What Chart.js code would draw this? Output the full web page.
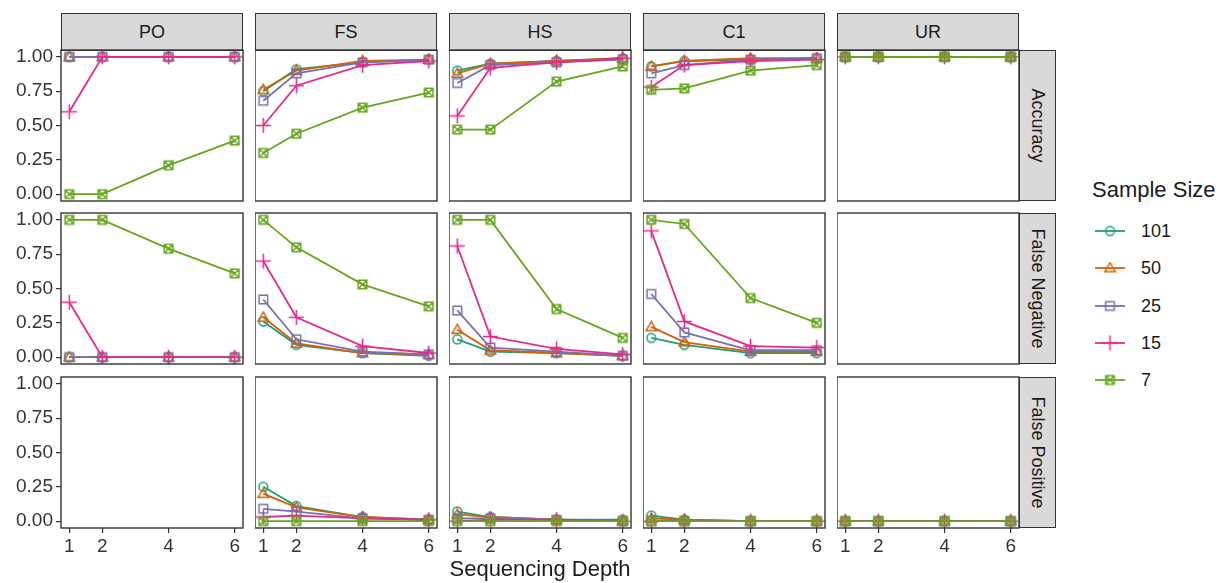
<!DOCTYPE html>
<html>
<head>
<meta charset="utf-8">
<script src="https://cdn.jsdelivr.net/npm/chart.js@4"></script>
<style>
  html, body { margin: 0; padding: 0; background: #fff; }
  body { width: 1225px; height: 583px; position: relative; overflow: hidden;
         font-family: "Liberation Sans", Arial, sans-serif; color: #1a1a1a; }
  canvas { position: absolute; }
  .strip { position: absolute; box-sizing: border-box; background: #d9d9d9;
           border: 1px solid #333; font-size: 18px; display: flex;
           align-items: center; justify-content: center; }
  .strip span { white-space: nowrap; }
  .strip.side span { transform: rotate(90deg); }
  .axis-title { position: absolute; font-size: 22px; line-height: 26px; text-align: center; }
  .legend-title { position: absolute; left: 1092px; top: 177px; font-size: 22px; }
  .legend-label { position: absolute; left: 1141px; font-size: 18px; line-height: 20px; }
</style>
</head>
<body>
<script>
const depths = [1, 2, 4, 6];
const methods = ['PO', 'FS', 'HS', 'C1', 'UR'];
const metrics = ['Accuracy', 'False Negative', 'False Positive'];
const sampleSizes = ['101', '50', '25', '15', '7'];
const yTicks = [0, 0.25, 0.5, 0.75, 1];

// rows in each array follow sampleSizes: 101, 50, 25, 15, 7
const accPO = [[1, 1, 1, 1], [1, 1, 1, 1], [1, 1, 1, 1], [0.6, 1, 1, 1], [0, 0, 0.21, 0.39]];
const accFS = [[0.75, 0.91, 0.96, 0.98], [0.76, 0.9, 0.97, 0.98], [0.68, 0.88, 0.96, 0.98], [0.5, 0.79, 0.94, 0.97], [0.3, 0.44, 0.63, 0.74]];
const accHS = [[0.9, 0.95, 0.97, 0.99], [0.88, 0.95, 0.97, 0.99], [0.81, 0.94, 0.96, 0.98], [0.57, 0.92, 0.96, 0.99], [0.47, 0.47, 0.82, 0.93]];
const accC1 = [[0.93, 0.97, 0.98, 0.99], [0.93, 0.97, 0.99, 0.99], [0.88, 0.94, 0.98, 0.99], [0.78, 0.94, 0.97, 0.98], [0.76, 0.77, 0.9, 0.94]];
const accUR = [[1, 1, 1, 1], [1, 1, 1, 1], [1, 1, 1, 1], [1, 1, 1, 1], [1, 1, 1, 1]];

const fnPO = [[0, 0, 0, 0], [0, 0, 0, 0], [0, 0, 0, 0], [0.4, 0, 0, 0], [1, 1, 0.79, 0.61]];
const fnFS = [[0.26, 0.09, 0.03, 0.01], [0.29, 0.1, 0.03, 0.02], [0.42, 0.13, 0.04, 0.02], [0.7, 0.29, 0.08, 0.03], [1, 0.8, 0.53, 0.37]];
const fnHS = [[0.13, 0.04, 0.03, 0.01], [0.2, 0.05, 0.03, 0.01], [0.34, 0.07, 0.04, 0.01], [0.81, 0.15, 0.06, 0.02], [1, 1, 0.35, 0.14]];
const fnC1 = [[0.14, 0.09, 0.03, 0.03], [0.22, 0.11, 0.04, 0.04], [0.46, 0.18, 0.05, 0.05], [0.92, 0.26, 0.08, 0.07], [1, 0.97, 0.43, 0.25]];
const fnUR = [];

const fpPO = [];
const fpFS = [[0.25, 0.11, 0.03, 0.01], [0.2, 0.1, 0.03, 0.01], [0.09, 0.07, 0.02, 0.01], [0.03, 0.04, 0.02, 0.01], [0, 0, 0, 0]];
const fpHS = [[0.07, 0.03, 0.01, 0.01], [0.05, 0.03, 0.01, 0], [0.02, 0.02, 0.01, 0], [0, 0.01, 0.01, 0], [0, 0, 0, 0]];
const fpC1 = [[0.04, 0.01, 0, 0], [0.02, 0.01, 0, 0], [0, 0, 0, 0], [0, 0, 0, 0], [0, 0, 0, 0]];
const fpUR = [[0, 0, 0, 0], [0, 0, 0, 0], [0, 0, 0, 0], [0, 0, 0, 0], [0, 0, 0, 0]];

const grid = [
    [accPO, accFS, accHS, accC1, accUR],
    [fnPO, fnFS, fnHS, fnC1, fnUR],
    [fpPO, fpFS, fpHS, fpC1, fpUR]
];

const colors = ['#1B9E77', '#D95F02', '#7570B3', '#E7298A', '#66A61E'];
const shapes = ['circle', 'triangle', 'square', 'plus', 'squareX'];

// panel layout
const colLeft = [61, 255, 449, 643, 837];
const rowTop = [50, 213, 377];
const panelW = 182;
const panelH = 151;
const yAxisW = 61;
const xAxisH = 36;
const PAD = 20; // room above/below each panel so tick labels never shrink it
const FONT = '"Liberation Sans", Arial, sans-serif';

function makeMarker(shape, color) {
    const c = document.createElement('canvas');
    const s = shape === 'plus' ? 17 : 13;
    c.width = s;
    c.height = s;
    const g = c.getContext('2d');
    const m = s / 2;
    g.strokeStyle = color;
    g.lineWidth = 1.5;
    g.beginPath();
    if (shape === 'circle') {
        g.arc(m, m, 4.4, 0, Math.PI * 2);
    } else if (shape === 'triangle') {
        g.moveTo(m, m - 5.3);
        g.lineTo(m + 5.2, m + 3.7);
        g.lineTo(m - 5.2, m + 3.7);
        g.closePath();
    } else if (shape === 'square') {
        g.rect(m - 4.3, m - 4.3, 8.6, 8.6);
    } else if (shape === 'plus') {
        g.moveTo(1, m); g.lineTo(s - 1, m);
        g.moveTo(m, 1); g.lineTo(m, s - 1);
    } else {
        g.rect(m - 4.3, m - 4.3, 8.6, 8.6);
        g.moveTo(m - 4.3, m - 4.3); g.lineTo(m + 4.3, m + 4.3);
        g.moveTo(m + 4.3, m - 4.3); g.lineTo(m - 4.3, m + 4.3);
    }
    g.stroke();
    return c;
}

const markers = shapes.map((s, i) => makeMarker(s, colors[i]));

const panelBorder = {
    id: 'panelBorder',
    afterDatasetsDraw(chart) {
        const a = chart.chartArea;
        const ctx = chart.ctx;
        ctx.save();
        ctx.strokeStyle = '#333';
        ctx.lineWidth = 1.4;
        ctx.strokeRect(a.left, a.top, a.right - a.left, a.bottom - a.top);
        ctx.restore();
    }
};

function buildPanel(r, c) {
    const rows = grid[r][c];
    const firstCol = c === 0;
    const lastRow = r === 2;
    const canvas = document.createElement('canvas');
    const left = firstCol ? 0 : colLeft[c];
    const w = (firstCol ? yAxisW : 0) + panelW + 8;
    const h = PAD + panelH + (lastRow ? xAxisH : PAD);
    canvas.width = w;
    canvas.height = h;
    canvas.style.left = left + 'px';
    canvas.style.top = (rowTop[r] - PAD) + 'px';
    document.body.appendChild(canvas);

    const datasets = rows.map((vals, i) => ({
        label: sampleSizes[i],
        data: depths.map((d, j) => ({ x: d, y: vals[j] })),
        borderColor: colors[i],
        borderWidth: 1.8,
        pointStyle: markers[i],
        pointRadius: 5,
        tension: 0,
        order: rows.length - i
    }));

    new Chart(canvas, {
        type: 'line',
        data: { datasets },
        options: {
            responsive: false,
            animation: false,
            events: [],
            layout: { autoPadding: false, padding: { top: PAD, right: 8, bottom: lastRow ? 0 : PAD, left: 0 } },
            plugins: { legend: { display: false }, tooltip: { enabled: false } },
            scales: {
                x: {
                    type: 'linear',
                    min: 0.75,
                    max: 6.25,
                    display: lastRow,
                    afterBuildTicks: s => { s.ticks = depths.map(v => ({ value: v })); },
                    afterFit: s => { s.height = lastRow ? xAxisH : 0; },
                    border: { display: false },
                    grid: { drawOnChartArea: false, drawTicks: true, tickLength: 5, color: '#333', lineWidth: 1.2 },
                    ticks: { autoSkip: false, maxRotation: 0, padding: 2, color: '#333',
                             font: { family: FONT, size: 19 }, callback: v => String(v) }
                },
                y: {
                    type: 'linear',
                    min: -0.05,
                    max: 1.05,
                    display: firstCol,
                    afterBuildTicks: s => { s.ticks = yTicks.map(v => ({ value: v })); },
                    afterFit: s => { s.width = firstCol ? yAxisW : 0; },
                    border: { display: false },
                    grid: { drawOnChartArea: false, drawTicks: true, tickLength: 5, color: '#333', lineWidth: 1.2 },
                    ticks: { padding: 3, color: '#333',
                             font: { family: FONT, size: 19 }, callback: v => v.toFixed(2) }
                }
            }
        },
        plugins: [panelBorder]
    });
}

function addDiv(cls, text, css) {
    const d = document.createElement('div');
    d.className = cls;
    const s = document.createElement('span');
    s.textContent = text;
    d.appendChild(s);
    Object.assign(d.style, css);
    document.body.appendChild(d);
    return d;
}

methods.forEach((m, c) => {
    addDiv('strip', m, { left: colLeft[c] + 'px', top: '13px', width: panelW + 'px', height: '38px' });
});
metrics.forEach((m, r) => {
    addDiv('strip side', m, { left: '1019px', top: rowTop[r] + 'px', width: '37px', height: panelH + 'px' });
});

for (let r = 0; r < 3; r++) {
    for (let c = 0; c < 5; c++) buildPanel(r, c);
}

addDiv('axis-title', 'Sequencing Depth', { left: colLeft[0] + 'px', width: (colLeft[4] + panelW - colLeft[0]) + 'px', top: '556px' });

// legend
addDiv('legend-title', 'Sample Size', {});
const keyY = [231, 268, 306, 343, 380];
sampleSizes.forEach((s, i) => {
    const key = document.createElement('canvas');
    key.width = 34;
    key.height = 22;
    key.style.left = '1093px';
    key.style.top = (keyY[i] - 11) + 'px';
    const g = key.getContext('2d');
    g.strokeStyle = colors[i];
    g.lineWidth = 1.8;
    g.beginPath();
    g.moveTo(2, 11);
    g.lineTo(32, 11);
    g.stroke();
    const mk = markers[i];
    g.drawImage(mk, 17 - mk.width / 2, 11 - mk.height / 2);
    document.body.appendChild(key);
    addDiv('legend-label', s, { top: (keyY[i] - 10) + 'px' });
});
</script>
</body>
</html>
